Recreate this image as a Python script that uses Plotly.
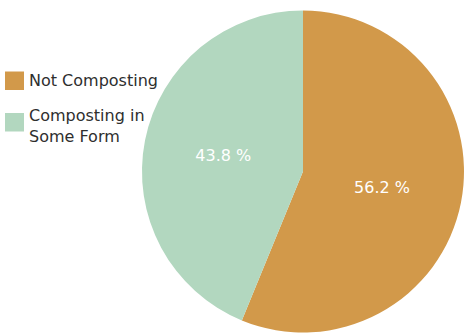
import plotly.graph_objects as go

labels = ["Not Composting", "Composting in<br>Some Form"]
values = [56.2, 43.8]
colors = ["#D2994A", "#B2D7BF"]

W, H = 464, 334
FONT = "DejaVu Sans"
TEXT_COLOR = "#2e2e2e"


def px_x(x):
    return x / W


def px_y(y):
    return 1 - y / H


fig = go.Figure(
    go.Pie(
        labels=labels,
        values=values,
        sort=False,
        direction="clockwise",
        rotation=0,
        marker=dict(colors=colors, line=dict(width=0)),
        texttemplate="%{value:.1f} %",
        textposition="inside",
        insidetextorientation="horizontal",
        textfont=dict(color="white", size=16, family=FONT),
        hoverinfo="label+percent",
        showlegend=False,
        domain=dict(x=[0.306, 1.0], y=[0.0045, 0.9686]),
    )
)

# Hand-placed legend: a colour square plus a label block for each slice
shapes = []
annotations = []
square_tops = [71.5, 113]
label_centres = [81, 126]
for label, color, top, centre in zip(labels, colors, square_tops, label_centres):
    shapes.append(
        dict(
            type="rect", xref="paper", yref="paper",
            x0=px_x(5), x1=px_x(24), y0=px_y(top + 18.5), y1=px_y(top),
            fillcolor=color, line=dict(width=0),
        )
    )
    annotations.append(
        dict(
            text=label, xref="paper", yref="paper",
            x=px_x(27), y=px_y(centre),
            xanchor="left", yanchor="middle", align="left", showarrow=False,
            font=dict(family=FONT, size=16, color=TEXT_COLOR),
        )
    )

fig.update_layout(
    width=W,
    height=H,
    margin=dict(l=0, r=0, t=0, b=0),
    paper_bgcolor="white",
    plot_bgcolor="white",
    font=dict(family=FONT, size=16, color=TEXT_COLOR),
    shapes=shapes,
    annotations=annotations,
)

fig.write_html("out.html")
